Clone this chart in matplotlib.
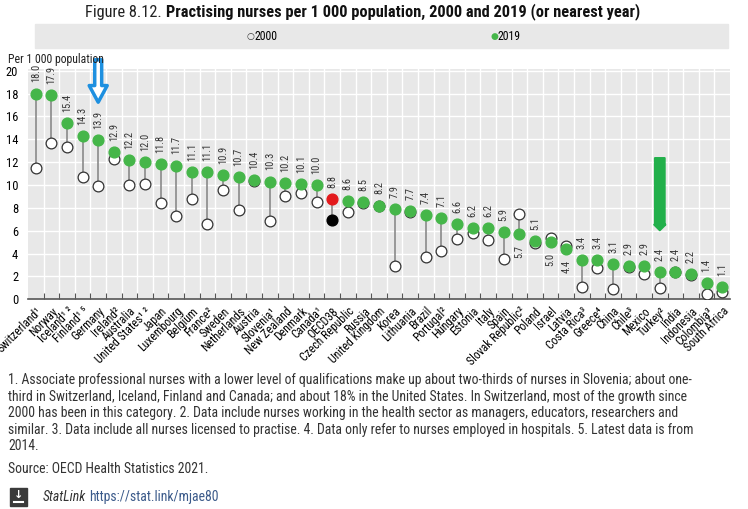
import matplotlib
matplotlib.use("Agg")
import matplotlib.pyplot as plt
from matplotlib.patches import Rectangle
from matplotlib.lines import Line2D

plt.rcParams['font.family'] = ['Roboto Condensed', 'DejaVu Sans']

countries = ["Switzerland¹", "Norway", "Iceland¹ ²", "Finland¹ ⁵", "Germany", "Ireland²",
             "Australia", "United States¹ ²", "Japan", "Luxembourg", "Belgium", "France²",
             "Sweden", "Netherlands", "Austria", "Slovenia¹", "New Zealand", "Denmark",
             "Canada¹", "OECD38", "Czech Republic", "Russia", "United Kingdom", "Korea",
             "Lithuania", "Brazil", "Portugal²", "Hungary", "Estonia", "Italy", "Spain",
             "Slovak Republic²", "Poland", "Israel", "Latvia", "Costa Rica³", "Greece⁴",
             "China", "Chile³", "Mexico", "Turkey²", "India", "Indonesia", "Colombia³",
             "South Africa"]
values_2019 = [18.0, 17.9, 15.4, 14.3, 13.9, 12.9, 12.2, 12.0, 11.8, 11.7, 11.1, 11.1,
               10.9, 10.7, 10.4, 10.3, 10.2, 10.1, 10.0, 8.8, 8.6, 8.5, 8.2, 7.9, 7.7,
               7.4, 7.1, 6.6, 6.2, 6.2, 5.9, 5.7, 5.1, 5.0, 4.4, 3.4, 3.4, 3.1, 2.9,
               2.9, 2.4, 2.4, 2.2, 1.4, 1.1]
values_2000 = [11.5, 13.7, 13.3, 10.7, 9.9, 12.3, 10.0, 10.1, 8.4, 7.3, 8.75, 6.6,
               9.6, 7.8, 10.35, 6.85, 9.0, 9.3, 8.5, 6.9, 7.6, 8.45, 8.15, 2.95, 7.6,
               3.7, 4.2, 5.25, 5.8, 5.2, 3.5, 7.45, 4.9, 5.4, 4.65, 1.1, 2.7, 0.9, 2.85,
               2.2, 1.0, 2.35, 2.15, 0.45, 0.6]
oecd_label = "OECD38"

green = "#45b649"
grid_bg = "#e8e8e8"

fig = plt.figure(figsize=(7.48, 5.09), dpi=100)
ax = fig.add_axes([28 / 748, 1 - 299.3 / 509, 702 / 748, (299.3 - 69) / 509])
ax.set_facecolor(grid_bg)

xs = list(range(len(countries)))
for i, c in enumerate(countries):
    lo, hi = sorted([values_2000[i], values_2019[i]])
    ax.plot([i, i], [lo, hi], color="#8a8a8a", lw=1.2, zorder=2)
    if c == oecd_label:
        ax.scatter(i, values_2000[i], s=60, color="black", zorder=3)
        ax.scatter(i, values_2019[i], s=60, color="#e3191c", zorder=4)
    else:
        ax.scatter(i, values_2000[i], s=60, facecolor="white", edgecolor="#333333",
                   lw=0.9, zorder=3)
        ax.scatter(i, values_2019[i], s=60, color=green, zorder=4)
    if values_2019[i] >= values_2000[i]:
        ax.annotate(f"{values_2019[i]:.1f}", (i, values_2019[i]), xytext=(0, 8),
                    textcoords="offset points", rotation=90, ha="center", va="bottom",
                    fontsize=7.5, color="#333333")
    else:
        ax.annotate(f"{values_2019[i]:.1f}", (i, values_2019[i]), xytext=(0, -8),
                    textcoords="offset points", rotation=90, ha="center", va="top",
                    fontsize=7.5, color="#333333")

ax.set_xlim(-0.5, len(countries) - 0.5)
ax.set_ylim(0, 20.15)
ax.set_yticks(range(0, 21, 2))
ax.tick_params(axis="y", length=0, labelsize=9, pad=7)
ax.set_xticks([i + 0.5 for i in xs[:-1]], minor=False)
ax.set_xticklabels([])
ax.tick_params(axis="x", direction="in", length=4, color="#555555")
ax.set_xticks(xs, minor=True)
ax.set_xticklabels(countries, minor=True, rotation=45, ha="right",
                   rotation_mode="anchor", fontsize=8.5)
ax.tick_params(axis="x", which="minor", length=0, pad=4)
ax.grid(True, color="white", lw=1.0)
ax.set_axisbelow(True)
for s in ["top", "right", "left"]:
    ax.spines[s].set_visible(False)
ax.spines["bottom"].set_color("#555555")
ax.spines["bottom"].set_linewidth(1.2)

fig.text(8 / 748, 1 - 59 / 509, "Per 1 000 population", fontsize=8.5, va="center",
         color="#222222")

# legend band
fig.patches.append(Rectangle((35 / 748, 1 - 48 / 509), 693 / 748, 24 / 509,
                             transform=fig.transFigure, color=grid_bg, zorder=0))
fig.text(250 / 748, 1 - 36 / 509, "○", fontsize=6.5, va="center", ha="center",
         family="DejaVu Sans", color="#333333")
fig.text(254 / 748, 1 - 36 / 509, "2000", fontsize=8.5, va="center")
fig.text(494 / 748, 1 - 36 / 509, "●", fontsize=6.5, va="center", ha="center",
         family="DejaVu Sans", color=green)
fig.text(498 / 748, 1 - 36 / 509, "2019", fontsize=8.5, va="center")

# title in two weights
fig.canvas.draw()
r = fig.canvas.get_renderer()
t1 = fig.text(85 / 748, 1 - 12 / 509, "Figure 8.12. ", fontsize=11.8, va="center",
              color="#222222")
bb = t1.get_window_extent(renderer=r)
fig.text(bb.x1 / fig.bbox.width, 1 - 12 / 509,
         "Practising nurses per 1 000 population, 2000 and 2019 (or nearest year)",
         fontsize=11.8, va="center", fontweight="bold", color="#111111")

# arrows drawn on the figure
ax.annotate("", xy=(4, 17.0), xytext=(4, 21.2),
            arrowprops=dict(arrowstyle="simple,head_length=1.2,head_width=1.3,tail_width=0.5",
                            fc="white", ec="#1e90e0", lw=2.5), annotation_clip=False)
ax.annotate("", xy=(40, 5.8), xytext=(40, 12.6),
            arrowprops=dict(arrowstyle="simple,head_length=0.4,head_width=0.8,tail_width=0.7",
                            fc="#22b04b", ec="#22b04b", lw=1.5), annotation_clip=False)

notes = [
    "1. Associate professional nurses with a lower level of qualifications make up about two-thirds of nurses in Slovenia; about one-",
    "third in Switzerland, Iceland, Finland and Canada; and about 18% in the United States. In Switzerland, most of the growth since",
    "2000 has been in this category. 2. Data include nurses working in the health sector as managers, educators, researchers and",
    "similar. 3. Data include all nurses licensed to practise. 4. Data only refer to nurses employed in hospitals. 5. Latest data is from",
    "2014.",
]
for k, line in enumerate(notes):
    fig.text(8 / 748, 1 - (380 + k * 16.6) / 509, line, fontsize=9.95, va="center",
             color="#333333")
fig.text(8 / 748, 1 - 469 / 509, "Source: OECD Health Statistics 2021.", fontsize=9.95,
         va="center", color="#333333")

fig.patches.append(Rectangle((10 / 748, 1 - 506 / 509), 17 / 748, 18 / 509,
                             transform=fig.transFigure, color="#3a3a3a"))
fig.text(18.5 / 748, 1 - 495 / 509, "↓", fontsize=8, ha="center", va="center",
         color="white", family="DejaVu Sans", fontweight="bold")
fig.lines.append(Line2D([14 / 748, 23 / 748], [1 - 501.5 / 509, 1 - 501.5 / 509],
                        transform=fig.transFigure, color="white", lw=1.5))
t2 = fig.text(43 / 748, 1 - 497 / 509, "StatLink", fontsize=9.95, va="center",
              style="italic", color="#333333")
bb2 = t2.get_window_extent(renderer=r)
fig.text(bb2.x1 / fig.bbox.width + 3 / 748, 1 - 497 / 509, "https://stat.link/mjae80",
         fontsize=9.95, va="center", color="#3b5a8a")

fig.savefig("out.png", dpi=100)
